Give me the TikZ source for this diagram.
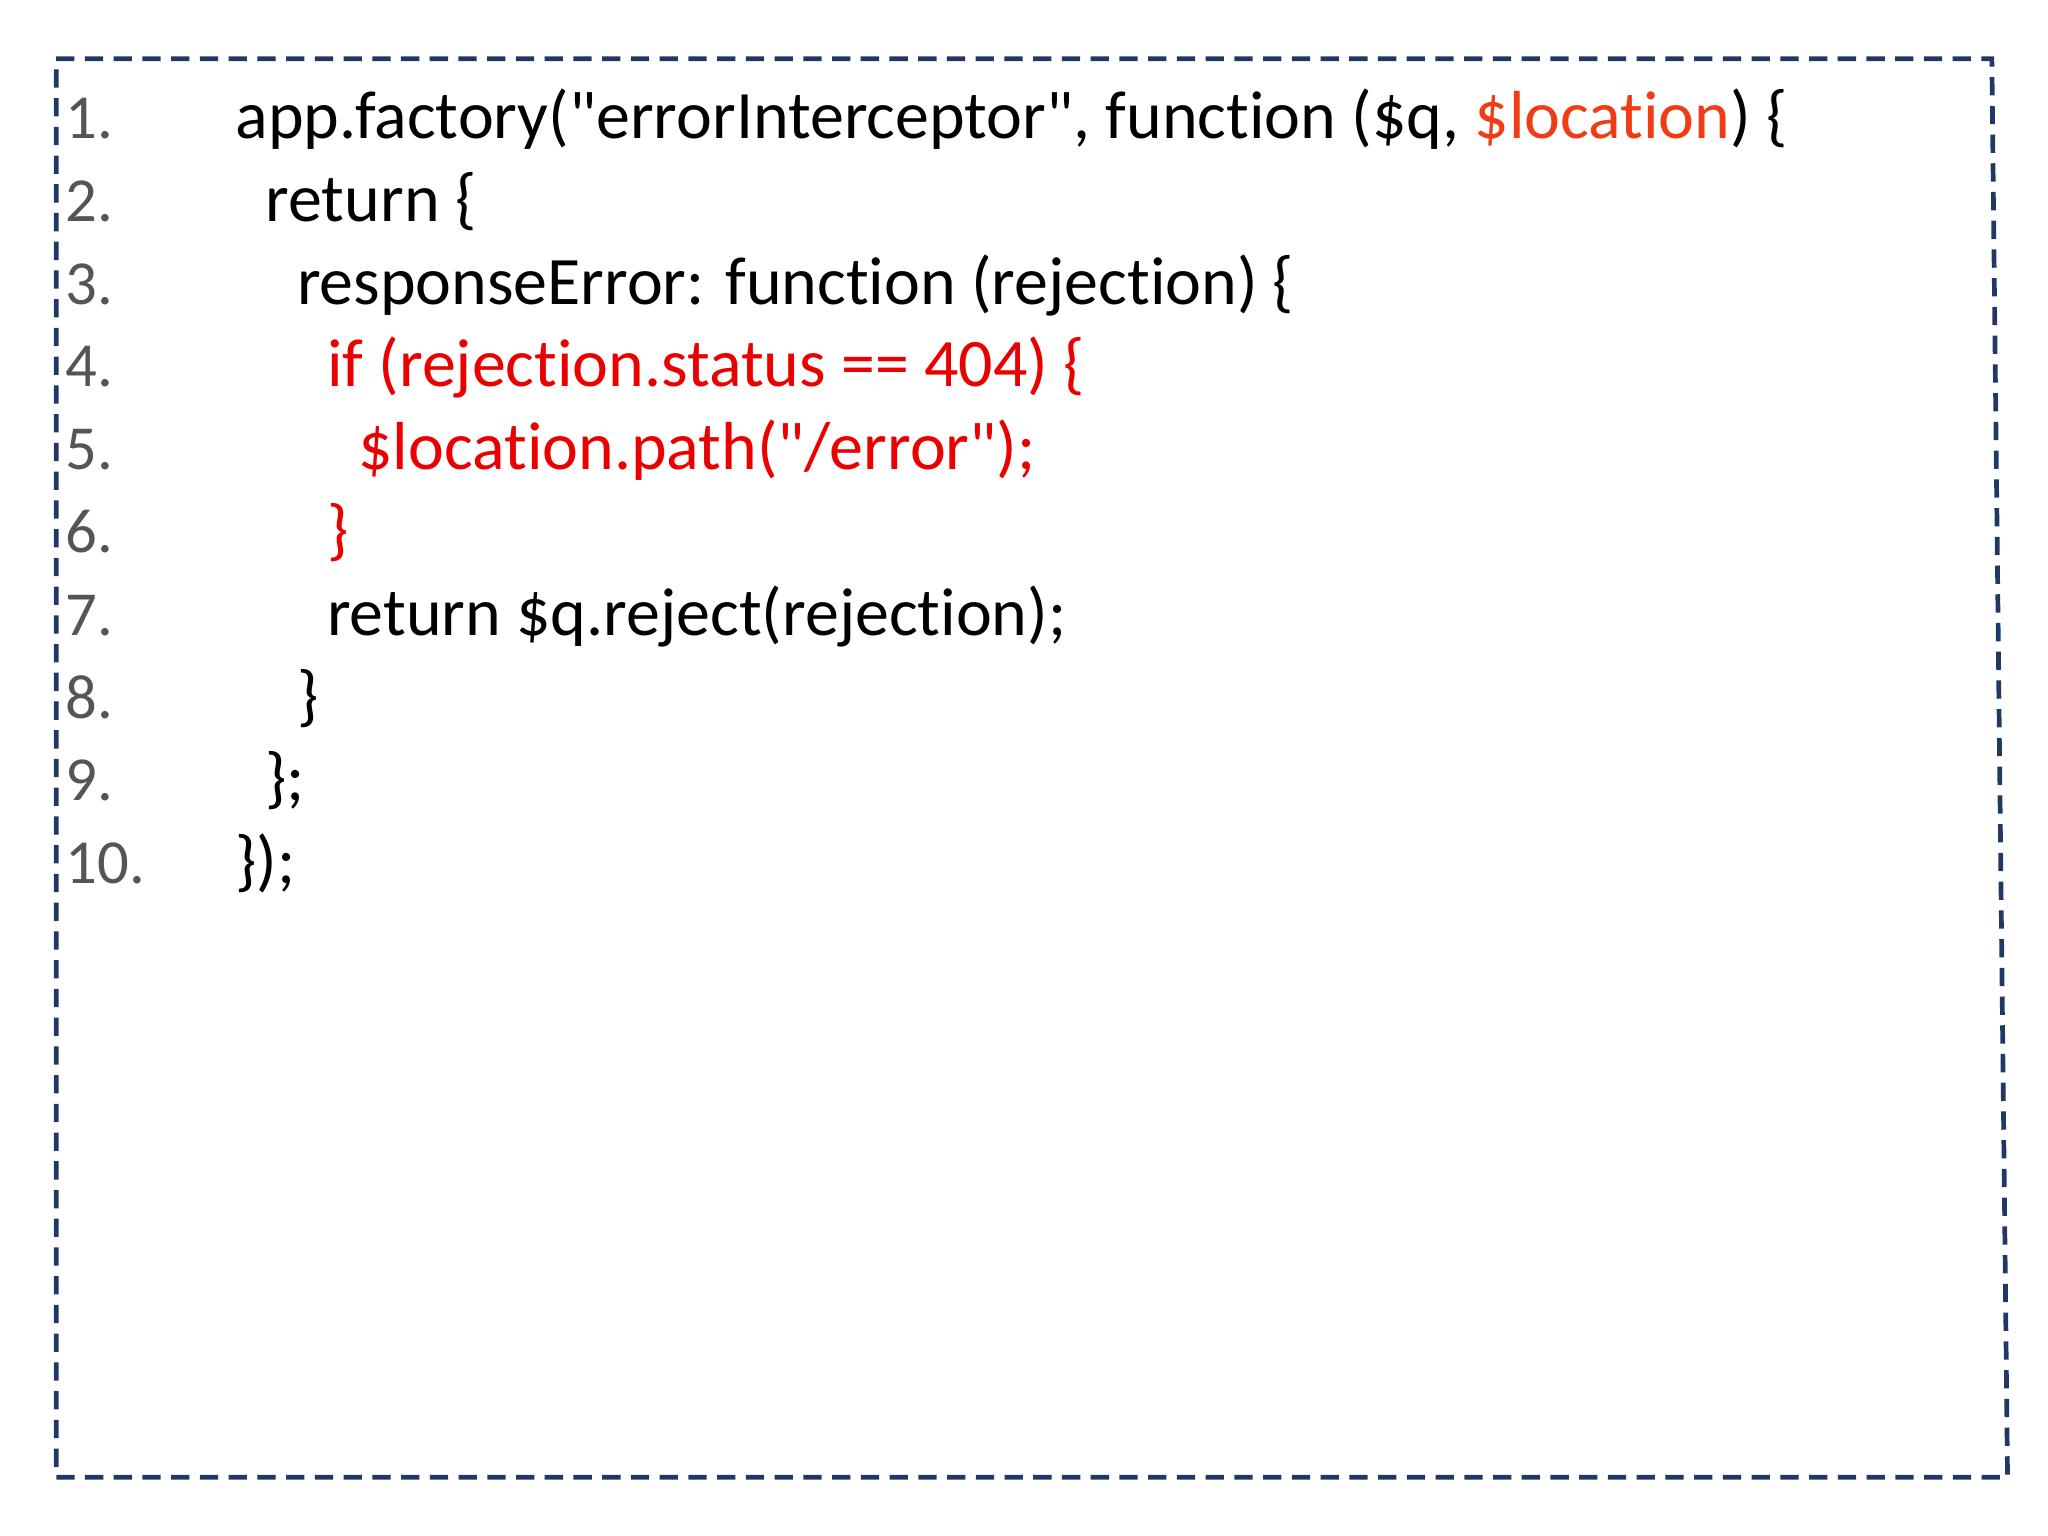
\documentclass[tikz,border=0pt]{standalone}
\usepackage{fontspec}
\setmainfont{Carlito}[Ligatures={NoCommon,NoRequired}]
\newfontfamily\qfont{Carlito}
\definecolor{boxblue}{RGB}{31,56,100}
\definecolor{numgray}{RGB}{85,85,85}
\definecolor{hired}{RGB}{235,0,0}
\definecolor{orred}{RGB}{240,60,20}
\newcommand{\dq}{{\qfont\symbol{34}}}
\tikzset{
  codeline/.style={anchor=base west,inner sep=0pt,font=\fontsize{26}{30}\selectfont},
  numline/.style={codeline,text=numgray,font=\fontsize{24}{28}\selectfont},
}
\begin{document}
\begin{tikzpicture}[x=0.5pt,y=0.5pt,yscale=-1,xscale=1]
        \useasboundingbox (0,0) rectangle (1568,1176);
        %Shape: dashed frame
        \draw [color=boxblue,line width=1.8pt,dash pattern=on 7pt off 4pt] (43,45) -- (1525,45) -- (1537,1131) -- (43,1131) -- cycle ;

        % Line numbers
        \foreach \n [count=\i from 0] in {1,...,10} {
          \node [numline] (num\n) at (50,106+63.4*\i) {\n.};
        }

        % Code lines
        \node [codeline] (c1) at (180,106) {app.factory(\dq errorInterceptor\dq, function (\$q, \textcolor{orred}{\$location}) \{};
        \node [codeline] (c2) at (203,169.4) {return \{};
        \node [codeline] (c3) at (227,232.8) {responseError: function (rejection) \{};
        \node [codeline,text=hired] (c4) at (250,296.2) {if (rejection.status == 404) \{};
        \node [codeline,text=hired] (c5) at (274,359.6) {\$location.path(\dq/error\dq);};
        \node [codeline,text=hired] (c6) at (250,423) {\}};
        \node [codeline] (c7) at (250,486.4) {return \$q.reject(rejection);};
        \node [codeline] (c8) at (227,549.8) {\}};
        \node [codeline] (c9) at (203,613.2) {\};};
        \node [codeline] (c10) at (180,676.6) {\});};
\end{tikzpicture}
\end{document}
